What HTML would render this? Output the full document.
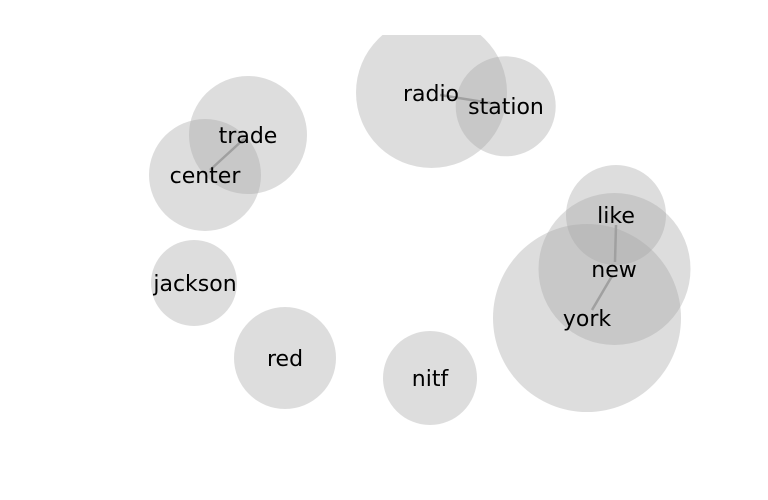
<!DOCTYPE html>
<html><head><style>body{margin:0;background:#fff}svg{display:block}</style></head>
<body>
<svg width="768" height="500" xmlns="http://www.w3.org/2000/svg" font-family="DejaVu Sans, sans-serif" font-size="22" text-anchor="middle">
<defs><clipPath id="c"><rect x="0" y="35" width="768" height="465"/></clipPath></defs>
<g clip-path="url(#c)" fill="rgba(166,166,166,0.38)">
<circle cx="431.5" cy="92.5" r="75.5"/>
<circle cx="505.7" cy="106.3" r="50"/>
<circle cx="248" cy="135" r="59"/>
<circle cx="205" cy="175" r="56"/>
<circle cx="194" cy="283" r="43"/>
<circle cx="285" cy="358" r="51"/>
<circle cx="430" cy="378" r="47"/>
<circle cx="616" cy="215" r="50"/>
<circle cx="614.5" cy="269" r="76"/>
<circle cx="587" cy="318" r="94"/>
</g>
<g stroke="#a0a0a0" stroke-width="2.5">
<line x1="440" y1="95" x2="490" y2="103"/>
<line x1="245" y1="138" x2="210" y2="170"/>
<line x1="616" y1="225" x2="615" y2="262"/>
<line x1="612" y1="276" x2="592" y2="310"/>
</g>
<g fill="#000">
<text x="431" y="101">radio</text>
<text x="506" y="114">station</text>
<text x="248" y="143">trade</text>
<text x="205" y="183">center</text>
<text x="195" y="291">jackson</text>
<text x="285" y="366">red</text>
<text x="430" y="386">nitf</text>
<text x="616" y="223">like</text>
<text x="614" y="277">new</text>
<text x="587" y="326">york</text>
</g>
</svg>
</body></html>
